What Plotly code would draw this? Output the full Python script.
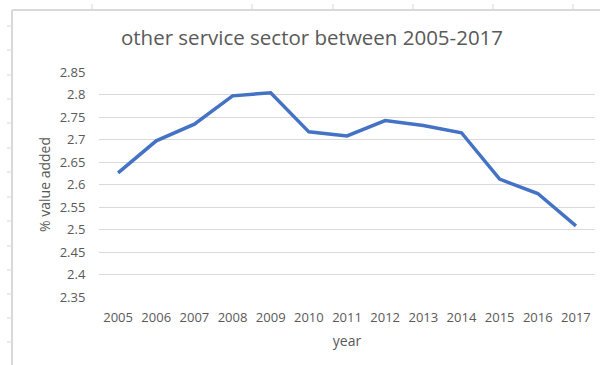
import plotly.graph_objects as go

# values
years = ['2005', '2006', '2007', '2008', '2009', '2010', '2011',
         '2012', '2013', '2014', '2015', '2016', '2017']
value_added = [2.626, 2.697, 2.734, 2.797, 2.804, 2.717, 2.708,
               2.742, 2.731, 2.715, 2.612, 2.580, 2.508]
y_ticks = [2.35, 2.4, 2.45, 2.5, 2.55, 2.6, 2.65, 2.7, 2.75, 2.8, 2.85]
y_tick_text = ['2.35', '2.4', '2.45', '2.5', '2.55', '2.6', '2.65',
               '2.7', '2.75', '2.8', '2.85']

W, H = 600, 365
L, R, T, B = 99, 5, 72, 68
text_col = '#595959'
grid_col = '#d9d9d9'


def px_x(x):
    return (x - L) / (W - L - R)


def px_y(y):
    return (H - B - y) / (H - T - B)


fig = go.Figure()
fig.add_trace(go.Scatter(x=years, y=value_added, mode='lines',
                         line=dict(color='#4472C4', width=3.5),
                         hoverinfo='x+y', showlegend=False))

# spreadsheet cell border around the chart object
shapes = [
    dict(type='line', xref='paper', yref='paper',
         x0=px_x(12), x1=px_x(600), y0=px_y(10), y1=px_y(10),
         line=dict(color='#d9d9d9', width=2)),
    dict(type='line', xref='paper', yref='paper',
         x0=px_x(12), x1=px_x(12), y0=px_y(10), y1=px_y(365),
         line=dict(color='#d9d9d9', width=2)),
]
for cx in [92, 252, 333, 413, 493, 573]:
    shapes.append(dict(type='line', xref='paper', yref='paper',
                       x0=px_x(cx), x1=px_x(cx), y0=px_y(4), y1=px_y(10),
                       line=dict(color='#d9d9d9', width=1)))
for ry in [26, 50, 75, 99, 123, 148, 172, 197, 221, 246, 270, 294, 318, 342]:
    shapes.append(dict(type='line', xref='paper', yref='paper',
                       x0=px_x(7), x1=px_x(12), y0=px_y(ry), y1=px_y(ry),
                       line=dict(color='#d9d9d9', width=1)))

fig.update_layout(
    width=W, height=H,
    margin=dict(l=L, r=R, t=T, b=B),
    paper_bgcolor='white', plot_bgcolor='white',
    font=dict(family='Open Sans', color=text_col, size=13),
    title=dict(text='other service sector between 2005-2017',
               x=312 / W, xanchor='center', y=1 - 38 / H, yanchor='middle',
               font=dict(size=20.5, color=text_col)),
    xaxis=dict(type='category', range=[-0.5, 12.5],
               showgrid=False, showline=False,
               ticks='outside', ticklen=8, tickcolor='rgba(0,0,0,0)',
               title=dict(text='year', standoff=11, font=dict(size=14)),
               automargin=False),
    yaxis=dict(range=[2.35, 2.85], tickvals=y_ticks, ticktext=y_tick_text,
               showgrid=True, gridcolor=grid_col, gridwidth=1,
               zeroline=False, showline=False,
               ticks='outside', ticklen=10, tickcolor='rgba(0,0,0,0)',
               title=dict(text='% value added', standoff=5, font=dict(size=14)),
               automargin=False),
    shapes=shapes,
)

fig.write_html('out.html', config={'displayModeBar': False},
               post_script="document.body.style.margin='0';")
